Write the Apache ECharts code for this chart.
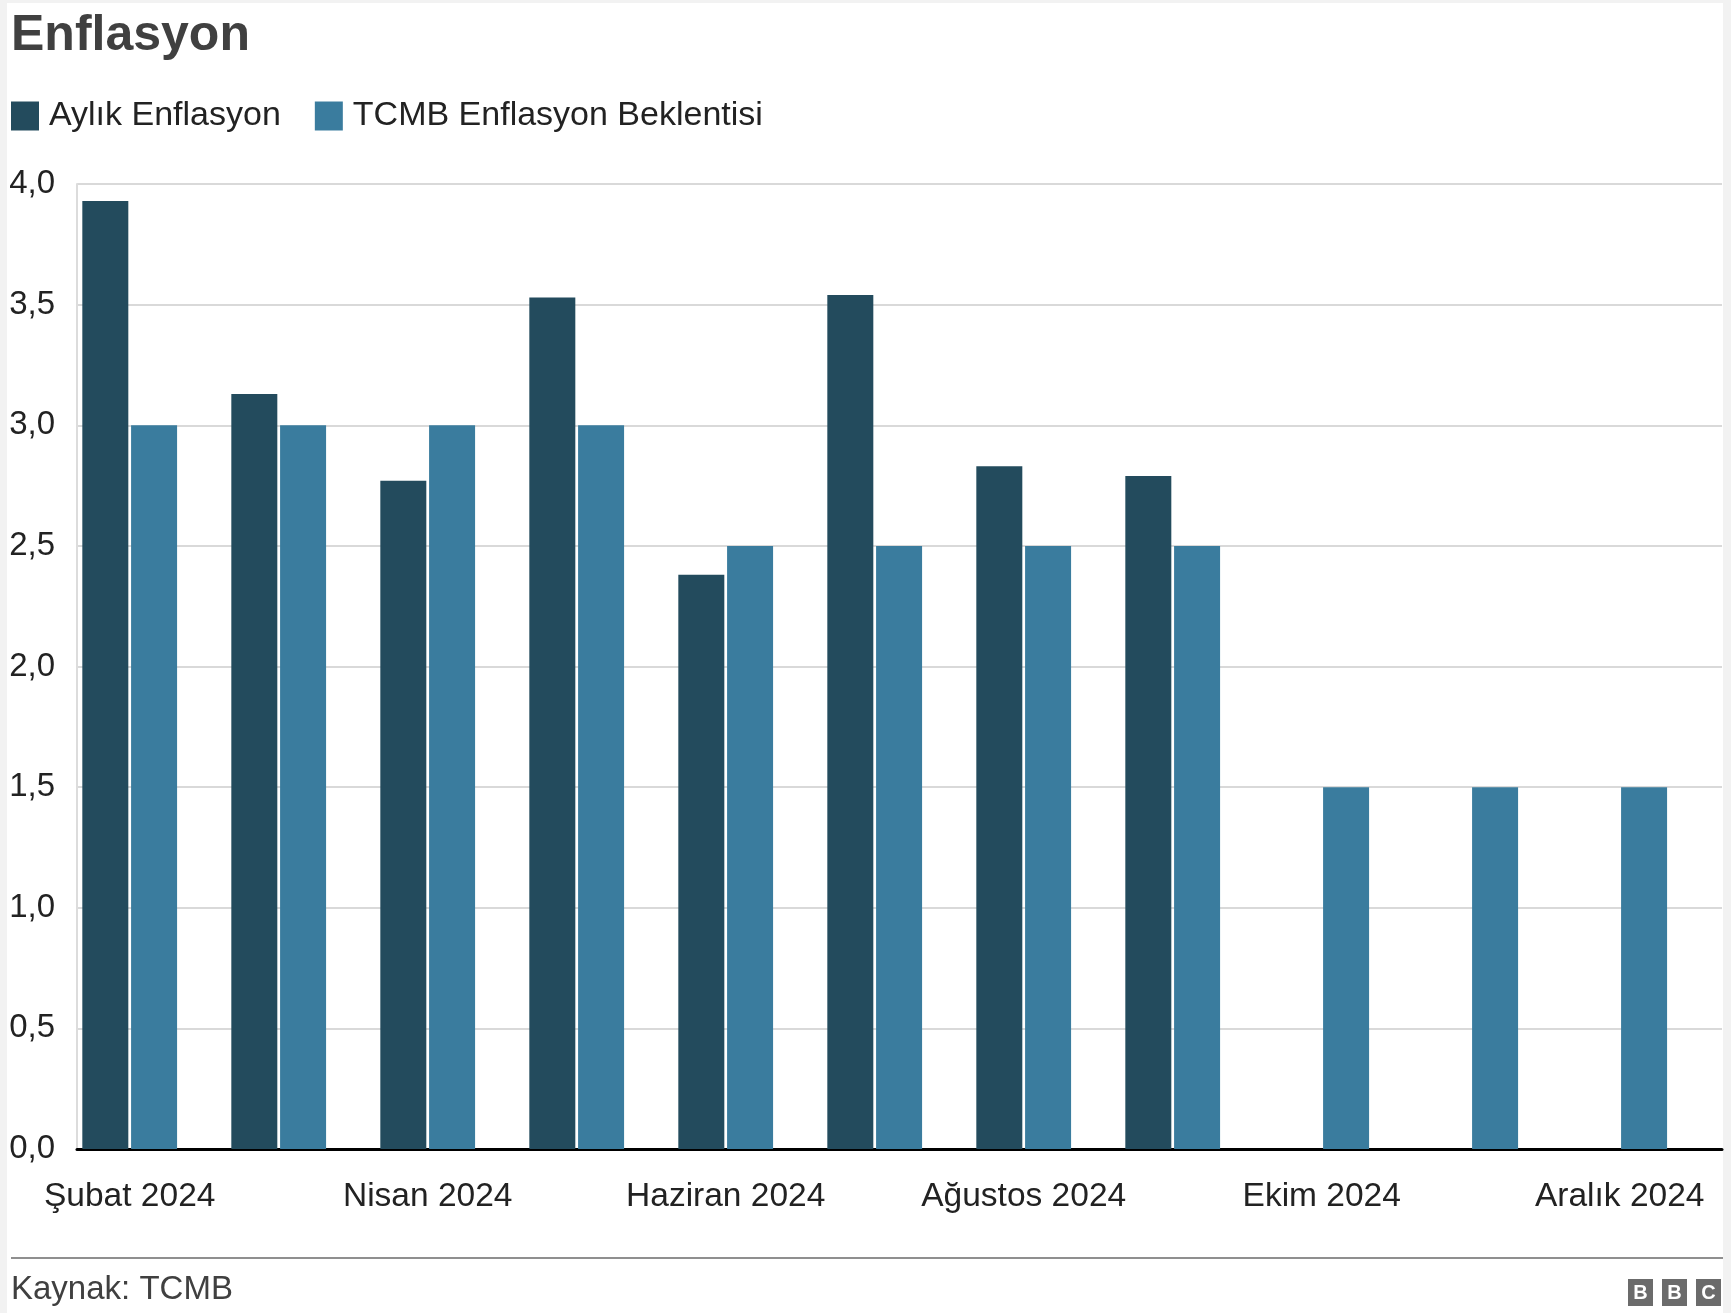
<!DOCTYPE html>
<html>
<head>
<meta charset="utf-8">
<script src="https://cdn.jsdelivr.net/npm/echarts@6/dist/echarts.min.js"></script>
<style>
  html, body { margin: 0; padding: 0; background: #f2f2f2; }
  #card { position: absolute; left: 7px; top: 3px; width: 1716px; height: 1310px; background: #ffffff; }
  #chart { position: absolute; left: 0; top: 0; width: 1731px; height: 1313px; }
</style>
</head>
<body>
<div id="card"></div>
<div id="chart"></div>
<script>
const categories = ['Şubat 2024', 'Mart 2024', 'Nisan 2024', 'Mayıs 2024', 'Haziran 2024', 'Temmuz 2024',
  'Ağustos 2024', 'Eylül 2024', 'Ekim 2024', 'Kasım 2024', 'Aralık 2024'];
const aylikEnflasyon = [3.93, 3.13, 2.77, 3.53, 2.38, 3.54, 2.83, 2.79, null, null, null];
const tcmbBeklenti = [3.0, 3.0, 3.0, 3.0, 2.5, 2.5, 2.5, 2.5, 1.5, 1.5, 1.5];
const yMin = 0, yMax = 4, yStep = 0.5;
const titleText = 'Enflasyon';
const sourceText = 'Kaynak: TCMB';
const seriesNames = ['Aylık Enflasyon', 'TCMB Enflasyon Beklentisi'];

const FONT = '"Liberation Sans", Arial, Helvetica, sans-serif';
const chart = echarts.init(document.getElementById('chart'), null, { renderer: 'canvas' });

const option = {
  backgroundColor: 'transparent',
  animation: false,
  textStyle: { fontFamily: FONT },
  title: {
    text: titleText,
    left: 6,
    top: 6,
    textStyle: { fontFamily: FONT, fontSize: 50, fontWeight: 'bold', color: '#404040' }
  },
  legend: {
    left: 11,
    top: 99,
    padding: 0,
    itemWidth: 28,
    itemHeight: 29,
    itemGap: 34,
    icon: 'rect',
    data: seriesNames,
    textStyle: { fontFamily: FONT, fontSize: 34, color: '#222222', padding: [0, 0, 0, 5] }
  },
  grid: [
    { left: 55.2, width: 1639, top: 184, bottom: 164, containLabel: false },
    { left: 77, right: 9, top: 184, bottom: 164, containLabel: false }
  ],
  xAxis: [
    {
      type: 'category',
      gridIndex: 0,
      data: categories,
      boundaryGap: true,
      axisLine: { show: false },
      axisTick: { show: false },
      splitLine: { show: false },
      axisLabel: {
        interval: 1,
        margin: 31,
        fontFamily: FONT,
        fontSize: 33.5,
        color: '#222222'
      }
    },
    {
      type: 'value',
      gridIndex: 1,
      min: 0,
      max: 1,
      axisLine: { show: true, onZero: false, lineStyle: { color: '#000000', width: 3 } },
      axisTick: { show: false },
      axisLabel: { show: false },
      splitLine: { show: false }
    }
  ],
  yAxis: [
    {
      type: 'value',
      gridIndex: 0,
      min: yMin,
      max: yMax,
      interval: yStep,
      show: false,
      splitLine: { show: false }
    },
    {
      type: 'value',
      gridIndex: 1,
      min: yMin,
      max: yMax,
      interval: yStep,
      axisLine: { show: true, lineStyle: { color: '#dcdcdc', width: 2 } },
      axisTick: { show: false },
      splitLine: { show: true, lineStyle: { color: '#d9d9d9', width: 2 } },
      axisLabel: {
        margin: 22,
        fontFamily: FONT,
        fontSize: 33,
        color: '#222222',
        formatter: v => v.toFixed(1).replace('.', ',')
      }
    }
  ],
  series: [
    {
      name: seriesNames[0],
      type: 'bar',
      xAxisIndex: 0,
      yAxisIndex: 0,
      data: aylikEnflasyon,
      barWidth: 46,
      barGap: '6%',
      itemStyle: { color: '#234b5d' },
      z: 2
    },
    {
      name: seriesNames[1],
      type: 'bar',
      xAxisIndex: 0,
      yAxisIndex: 0,
      data: tcmbBeklenti,
      barWidth: 46,
      barGap: '6%',
      itemStyle: { color: '#3a7c9e' },
      z: 2
    }
  ],
  graphic: [
    {
      type: 'rect',
      shape: { x: 11, y: 1257, width: 1712, height: 2 },
      style: { fill: '#8f8f8f' },
      silent: true
    },
    {
      type: 'text',
      left: 11,
      top: 1273,
      style: { text: sourceText, font: '33px ' + FONT, fill: '#404040' },
      silent: true
    },
    {
      type: 'group',
      left: 1628,
      top: 1279,
      children: ['B', 'B', 'C'].map((ch, i) => ({
        type: 'group',
        x: i * 34,
        children: [
          { type: 'rect', shape: { x: 0, y: 0, width: 25, height: 27 }, style: { fill: '#6b6b6b' } },
          { type: 'text', x: 12.5, y: 14, style: { text: ch, font: 'bold 20px ' + FONT, fill: '#ffffff', align: 'center', verticalAlign: 'middle' } }
        ]
      })),
      silent: true
    }
  ]
};

chart.setOption(option);
</script>
</body>
</html>
